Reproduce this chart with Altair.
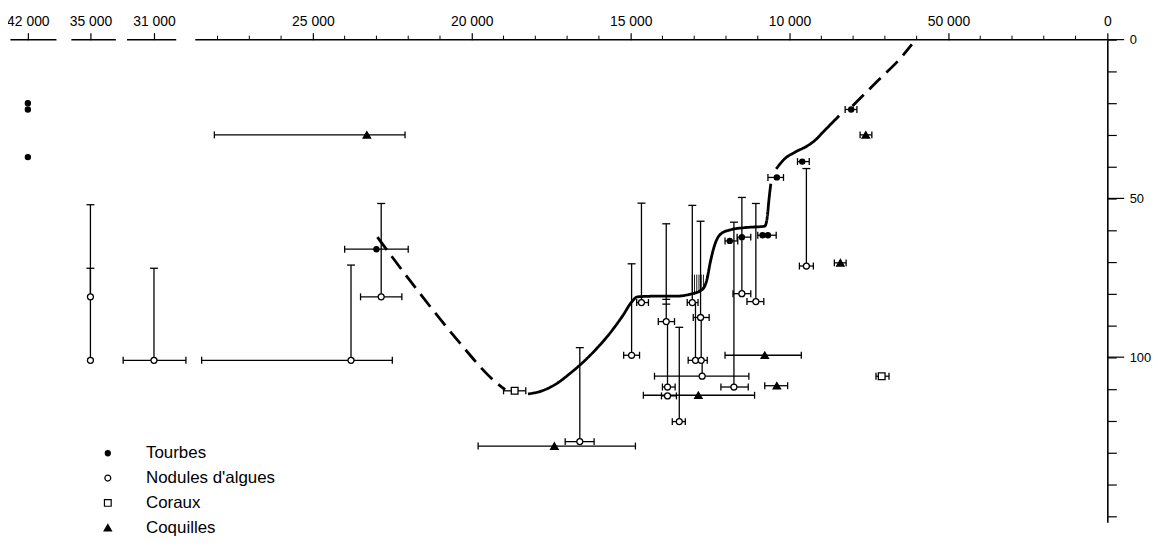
import altair as alt
import pandas as pd

# ---------------- data ----------------
types = ["Tourbes", "Nodules d'algues", "Coraux", "Coquilles"]
type_fill = ["black", "white", "white", "black"]
type_shape = ["circle", "circle", "square", "triangle-up"]
type_size = [26, 56, 48, 42]

# Tourbes (peat)
t_age   = [42000, 42000, 42000, 23000, 11880, 11500, 10850, 10680, 10400, 9600, 8060]
t_depth = [20, 22, 37, 66, 63.4, 62.2, 61.6, 61.6, 43.4, 38.4, 22]
t_lo    = [None, None, None, 24000, 12030, 11650, 11000, None, 10680, 9750, 8250]
t_hi    = [None, None, None, 22000, 11630, 11220, 10420, None, 10190, 9380, 7880]

# Nodules d'algues
n_age   = [35000, 35000, 31000, 23800, 22850, 16600, 14660, 14970, 13880, 13840, 13840,
           13470, 13060, 12800, 12960, 12780, 12750, 11750, 11500, 11060, 9470]
n_depth = [81, 101, 101, 101, 81, 126.6, 82.8, 99.4, 88.8, 109.4, 112.2,
           120.3, 82.8, 87.5, 101, 101, 106, 109.4, 80, 82.5, 71.3]
n_lo    = [None, None, 31970, 28500, 23500, 17060, 14810, 15220, 14130, 14000, 14030,
           13690, 13220, 13030, 13190, None, 14250, 12160, 11780, 11340, 9690]
n_hi    = [None, None, 29970, 22500, 22200, 16150, 14440, 14720, 13620, 13600, 13560,
           13280, 12880, 12530, 12590, None, 11280, 11300, 11220, 10810, 9250]
n_vtop  = [52, 72, 72, 71, 51.6, 97, 51.5, 70.6, 58, 88.8, None,
           90.6, 52.2, 57.2, 82.8, 87.5, 101, 57.5, 49.7, 51.6, 40.6]
n_cap   = [True, True, True, True, True, True, True, True, True, False, False,
           True, True, True, False, False, False, True, True, True, True]

# Coraux
c_age   = [18650, 7100]
c_depth = [110.6, 106]
c_lo    = [19000, 7280]
c_hi    = [18300, 6870]

# Coquilles
q_age   = [23300, 17400, 12870, 10780, 10400, 8400, 7600]
q_depth = [30, 128, 112, 99.4, 109, 70.3, 30]
q_lo    = [28100, 19800, 14600, 12030, 10780, 8590, 7780]
q_hi    = [22100, 14850, 11100, 9630, 10060, 8220, 7410]

# double tick on one vertical bar
extra_tick_age = [13880, 13880]
extra_tick_depth = [81.8, 83.3]

# hatched patch
hatch_age = [13060, 12990, 12920, 12850, 12780, 12710]
hatch_top = [74, 74, 74, 74, 74, 74]
hatch_bottom = [80.4, 80.3, 80.1, 79.8, 79.2, 78.5]

# sea-level curve (age, depth), by segment
curve_A_age = [22970, 21720, 20470, 19220, 18950]
curve_A_depth = [62.2, 78.8, 94.4, 108.1, 110.2]
curve_B_age = [18230, 17760, 17340, 16930, 16510, 16090, 15680, 15260, 14950, 14790,
               14220, 13590, 13180, 12760, 12600, 12500, 12340, 12140, 11820, 11400,
               10780, 10700, 10650, 10590]
curve_B_depth = [111.6, 110.5, 108.4, 105.3, 101.7, 97.5, 92.8, 87.1, 82.4, 81.0,
                 80.8, 80.8, 80.3, 78.8, 75.6, 70.4, 64.2, 61.0, 59.8, 59.2,
                 58.75, 55.8, 50.6, 45.4]
curve_C_age = [10420, 10160, 9840, 9430, 9220, 8910, 8650, 8440]
curve_C_depth = [40.7, 37.6, 35.5, 33.4, 31.9, 28.75, 26.1, 24.0]
curve_D_age = [8020, 7240, 6460, 6150]
curve_D_depth = [20.9, 13.1, 5.3, 1.5]

# axis (broken scale)
major_ticks = [42000, 35000, 31000, 25000, 20000, 15000, 10000, 5000, 0]
minor_ticks = [28000, 27000, 26000, 24000, 23000, 22000, 21000, 19000, 18000, 17000,
               16000, 14000, 13000, 12000, 11000, 9000, 8000, 7000, 6000, 4000,
               3000, 2000, 1000]
axis_seg_start = [42550, 35600, 31850, 28700]
axis_seg_end = [41100, 34190, 30300, 0]
depth_ticks = [0, 10, 20, 30, 40, 50, 60, 70, 80, 90, 100, 110, 120, 130, 140, 150]
depth_labels = [0, 50, 100]

# ---------------- tables ----------------
def block(name, ages, depths, lo, hi, vtop=None, cap=None):
    n = len(ages)
    return pd.DataFrame({
        "type": [name] * n, "age": ages, "depth": depths,
        "lo": lo, "hi": hi,
        "vtop": vtop if vtop is not None else [None] * n,
        "cap": cap if cap is not None else [False] * n,
    })

pts = pd.concat([
    block(types[0], t_age, t_depth, t_lo, t_hi),
    block(types[1], n_age, n_depth, n_lo, n_hi, n_vtop, n_cap),
    block(types[2], c_age, c_depth, c_lo, c_hi),
    block(types[3], q_age, q_depth, q_lo, q_hi),
], ignore_index=True)
pts["lo"] = pd.to_numeric(pts["lo"])
pts["hi"] = pd.to_numeric(pts["hi"])
pts["vtop"] = pd.to_numeric(pts["vtop"])

hb = pts.dropna(subset=["lo"])
hcaps = pd.DataFrame({"x": list(hb["lo"]) + list(hb["hi"]),
                      "depth": list(hb["depth"]) * 2})
vc = pts[pts["cap"] & pts["vtop"].notna()]
vcaps = pd.DataFrame({"age": list(vc["age"]) + extra_tick_age,
                      "depth": list(vc["vtop"]) + extra_tick_depth})

curve_rows = []
for seg, style, ages, depths in [("A", "dashed", curve_A_age, curve_A_depth),
                                 ("B", "solid", curve_B_age, curve_B_depth),
                                 ("C", "solid", curve_C_age, curve_C_depth),
                                 ("D", "dashed", curve_D_age, curve_D_depth)]:
    for a, d in zip(ages, depths):
        curve_rows.append({"seg": seg, "style": style, "age": a, "depth": d})
curve = pd.DataFrame(curve_rows)
curve["i"] = range(len(curve))

hatch = pd.DataFrame({"age": hatch_age, "top": hatch_top, "bottom": hatch_bottom})
segs = pd.DataFrame({"start": axis_seg_start, "end": axis_seg_end})
minor = pd.DataFrame({"age": minor_ticks})
dmaj = pd.DataFrame({"depth": depth_labels})

# ---------------- scales / axes ----------------
W, H = 1107, 486
x_scale = alt.Scale(domain=[42625, 41000, 35800, 34200, 32000, 30000, 28800, 0],
                    range=[0, 52, 57.4, 108.6, 115, 179, 185.4, W],
                    zero=False, nice=False)
y_scale = alt.Scale(domain=[0, 152], reverse=True, zero=False, nice=False)

FONT = "Liberation Sans"
x_axis = alt.Axis(orient="top", values=major_ticks, title=None, grid=False, domain=False,
                  ticks=True, tickSize=7, tickWidth=1.2, tickColor="black",
                  labelFontSize=14, labelFont=FONT, labelColor="black", labelPadding=4,
                  labelFlush=False, labelOverlap=False,
                  labelExpr="datum.value == 5000 ? '50 000' : replace(format(datum.value, ','), ',', ' ')")
y_axis = alt.Axis(orient="right", values=depth_ticks, title=None, grid=False,
                  domain=True, domainColor="black", domainWidth=1.6,
                  ticks=True, tickSize=9, tickWidth=1.2, tickColor="black",
                  labelFontSize=13, labelFont=FONT, labelColor="black", labelPadding=13,
                  labelFlush=False, labelOverlap=False,
                  labelExpr="indexof([0, 50, 100], datum.value) >= 0 ? datum.label : ''")

def X(f):
    return alt.X(f, type="quantitative", scale=x_scale, axis=x_axis)

def Y(f):
    return alt.Y(f, type="quantitative", scale=y_scale, axis=y_axis)

legend = alt.Legend(title=None, orient="none", legendX=92, legendY=408,
                    labelFontSize=17, labelFont=FONT, labelColor="black",
                    symbolStrokeWidth=1.2, rowPadding=7, labelOffset=30)

# ---------------- layers ----------------
axis_line = alt.Chart(segs).mark_rule(color="black", strokeWidth=1.5).encode(
    x=X("start"), x2="end", y=alt.value(0))
minor_t = alt.Chart(minor).mark_rule(color="black", strokeWidth=1).encode(
    x=X("age"), y=alt.value(-4), y2=alt.value(0))
major_y = alt.Chart(dmaj).mark_rule(color="black", strokeWidth=1.2).encode(
    y=Y("depth"), x=alt.value(W), x2=alt.value(W + 17))

hbar = alt.Chart(pts).transform_filter("isValid(datum.lo)").mark_rule(
    color="black", strokeWidth=1.3).encode(x=X("lo"), x2="hi", y=Y("depth"))
hcap = alt.Chart(hcaps).mark_tick(orient="vertical", size=7, thickness=1.3, color="black",
                                  opacity=1).encode(x=X("x"), y=Y("depth"))
vbar = alt.Chart(pts).transform_filter("isValid(datum.vtop)").mark_rule(
    color="black", strokeWidth=1.3).encode(x=X("age"), y=Y("vtop"), y2="depth")
vcap = alt.Chart(vcaps).mark_tick(orient="horizontal", size=8, thickness=1.3, color="black",
                                  opacity=1).encode(x=X("age"), y=Y("depth"))
hatch_l = alt.Chart(hatch).mark_rule(color="black", strokeWidth=0.9).encode(
    x=X("age"), y=Y("top"), y2="bottom")

line = alt.Chart(curve).mark_line(color="black", strokeWidth=2.8, interpolate="monotone").encode(
    x=X("age"), y=Y("depth"), detail="seg:N", order=alt.Order("i:Q"),
    strokeDash=alt.StrokeDash("style:N", scale=alt.Scale(domain=["solid", "dashed"],
                                                         range=[[1, 0], [16, 8]]), legend=None))

points = alt.Chart(pts).mark_point(filled=True, strokeWidth=1.3, opacity=1,
                                   fillOpacity=1).encode(
    x=X("age"), y=Y("depth"),
    shape=alt.Shape("type:N", scale=alt.Scale(domain=types, range=type_shape), legend=legend),
    fill=alt.Fill("type:N", scale=alt.Scale(domain=types, range=type_fill), legend=legend),
    stroke=alt.Stroke("type:N", scale=alt.Scale(domain=types, range=["black"] * 4), legend=legend),
    size=alt.Size("type:N", scale=alt.Scale(domain=types, range=type_size), legend=legend),
)

chart = alt.layer(axis_line, minor_t, major_y, hatch_l, hbar, hcap, vbar, vcap, line, points).properties(
    width=W, height=H,
    autosize=alt.AutoSizeParams(type="none"),
    padding={"left": 0, "top": 30, "right": 47, "bottom": 16},
    background="white",
).configure_view(stroke=None)

chart.save("out.html", embed_options={"renderer": "svg", "actions": False})
